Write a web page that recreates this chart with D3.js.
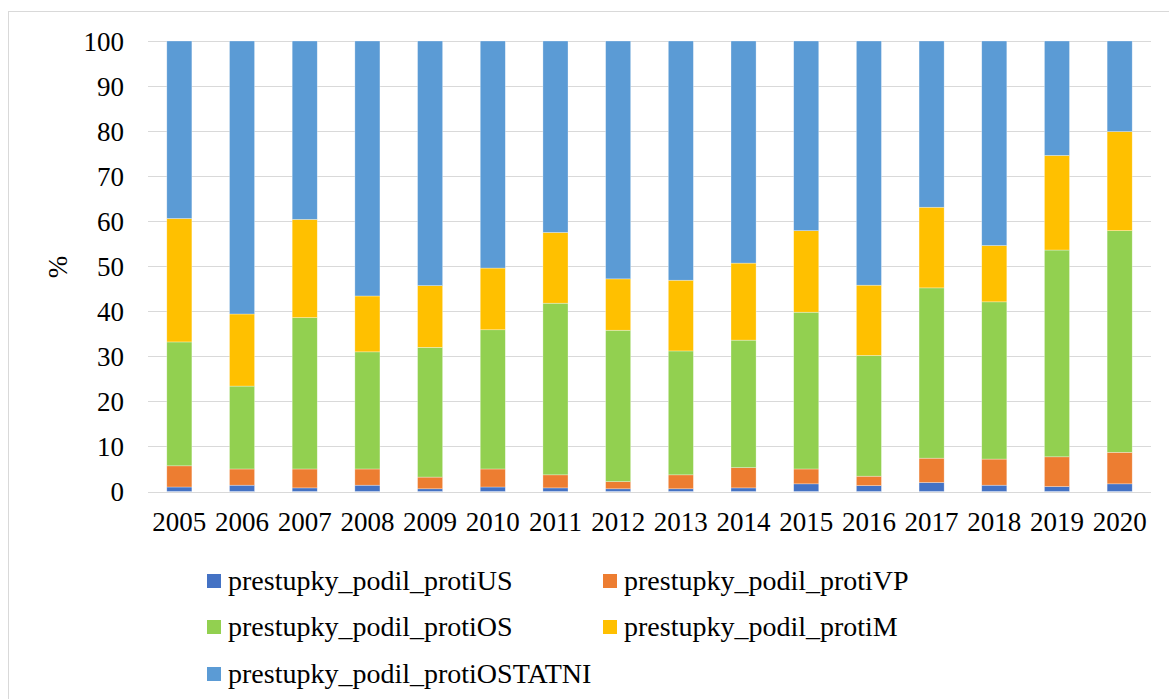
<!DOCTYPE html>
<html>
<head>
<meta charset="utf-8">
<script src="https://cdn.jsdelivr.net/npm/d3@7"></script>
<style>
  body { margin: 0; background: #fff; }
  svg { display: block; font-family: "Liberation Serif", "Times New Roman", serif; }
</style>
</head>
<body>
<div id="chart"></div>
<script>

var years = ['2005', '2006', '2007', '2008', '2009', '2010', '2011', '2012',
             '2013', '2014', '2015', '2016', '2017', '2018', '2019', '2020'];

var seriesNames = ['prestupky_podil_protiUS', 'prestupky_podil_protiVP',
                   'prestupky_podil_protiOS', 'prestupky_podil_protiM',
                   'prestupky_podil_protiOSTATNI'];

var protiUS      = [1.0, 1.4, 0.8, 1.4, 0.6, 1.0, 0.8, 0.6, 0.6, 0.8, 1.7, 1.3, 2.0, 1.4, 1.1, 1.7];
var protiVP      = [4.7, 3.6, 4.2, 3.6, 2.6, 4.0, 2.9, 1.6, 3.1, 4.5, 3.3, 2.1, 5.4, 5.8, 6.6, 7.0];
var protiOS      = [27.5, 18.4, 33.6, 26.0, 28.8, 30.9, 38.1, 33.6, 27.5, 28.3, 34.8, 26.8, 37.8, 34.9, 45.9, 49.2];
var protiM       = [27.4, 16.0, 21.8, 12.4, 13.7, 13.7, 15.7, 11.4, 15.7, 17.1, 18.1, 15.6, 17.9, 12.5, 21.0, 22.0];
var protiOSTATNI = [39.4, 60.6, 39.6, 56.6, 54.3, 50.4, 42.5, 52.8, 53.1, 49.3, 42.1, 54.2, 36.9, 45.4, 25.4, 20.1];

var yTicks = [0, 10, 20, 30, 40, 50, 60, 70, 80, 90, 100];

var colors = ['#4472C4', '#ED7D31', '#92D050', '#FFC000', '#5B9BD5'];

// build rows for d3.stack
var allSeries = [protiUS, protiVP, protiOS, protiM, protiOSTATNI];
var rows = years.map(function(y, i) {
    var r = {year: y};
    seriesNames.forEach(function(name, k) { r[name] = allSeries[k][i]; });
    return r;
});

var chartW = 1169, chartH = 699;
var plotLeft = 148, plotRight = 1151, plotTop = 41, plotBottom = 491.5;

var svg = d3.select('#chart').append('svg')
    .attr('width', chartW)
    .attr('height', chartH);

// chart border
svg.append('rect')
    .attr('x', 8.5).attr('y', 11.5)
    .attr('width', 1200).attr('height', 800)
    .attr('fill', 'none')
    .attr('stroke', '#d9d9d9');

var x = d3.scaleBand()
    .domain(years)
    .range([plotLeft, plotRight])
    .paddingInner(0.6)
    .paddingOuter(0.3);

var y = d3.scaleLinear()
    .domain([0, 100])
    .range([plotBottom, plotTop]);

// grid
svg.append('g').selectAll('line')
    .data(yTicks)
    .enter().append('line')
    .attr('x1', plotLeft).attr('x2', plotRight)
    .attr('y1', function(d) { return Math.round(y(d)) + 0.5; })
    .attr('y2', function(d) { return Math.round(y(d)) + 0.5; })
    .attr('stroke', '#d9d9d9')
    .attr('stroke-width', 1.2);

// y labels
var yAxis = d3.axisLeft(y).tickValues(yTicks).tickSize(0).tickPadding(0);
var gy = svg.append('g')
    .attr('transform', 'translate(124,0)')
    .call(yAxis);
gy.select('.domain').remove();
gy.selectAll('text')
    .attr('font-size', 27)
    .attr('font-family', '"Liberation Serif", serif')
    .attr('fill', '#000')
    .attr('dy', '0.34em');

svg.append('text')
    .attr('transform', 'translate(58,267) rotate(-90)')
    .attr('text-anchor', 'middle')
    .attr('dominant-baseline', 'central')
    .attr('font-size', 27)
    .text('%');

// x labels
var xAxis = d3.axisBottom(x).tickSize(0).tickPadding(0);
var gx = svg.append('g')
    .attr('transform', 'translate(0,' + plotBottom + ')')
    .call(xAxis);
gx.select('.domain').remove();
gx.selectAll('text')
    .attr('font-size', 27)
    .attr('font-family', '"Liberation Serif", serif')
    .attr('fill', '#000')
    .attr('dy', '1.45em');

// stacked bars
var stack = d3.stack().keys(seriesNames);
var layers = stack(rows);

svg.append('g').selectAll('g')
    .data(layers)
    .enter().append('g')
    .attr('fill', function(d, i) { return colors[i]; })
    .selectAll('rect')
    .data(function(d) { return d; })
    .enter().append('rect')
    .attr('x', function(d) { return x(d.data.year); })
    .attr('width', x.bandwidth())
    .attr('y', function(d) { return y(d[1]); })
    .attr('height', function(d) { return y(d[0]) - y(d[1]); })
    .attr('stroke', '#fff')
    .attr('stroke-opacity', 0.5)
    .attr('stroke-width', 0.6);

// legend
var legendPos = [
    {x: 207, y: 581}, {x: 603, y: 581},
    {x: 207, y: 627}, {x: 603, y: 627},
    {x: 207, y: 674}
];

var legend = svg.append('g').selectAll('g')
    .data(seriesNames)
    .enter().append('g')
    .attr('transform', function(d, i) {
        return 'translate(' + legendPos[i].x + ',' + legendPos[i].y + ')';
    });

legend.append('rect')
    .attr('x', 0).attr('y', -7)
    .attr('width', 14).attr('height', 14)
    .attr('fill', function(d, i) { return colors[i]; });

legend.append('text')
    .attr('x', 21)
    .attr('y', 0)
    .attr('dy', '0.32em')
    .attr('font-size', 28)
    .text(function(d) { return d; });

</script>
</body>
</html>
